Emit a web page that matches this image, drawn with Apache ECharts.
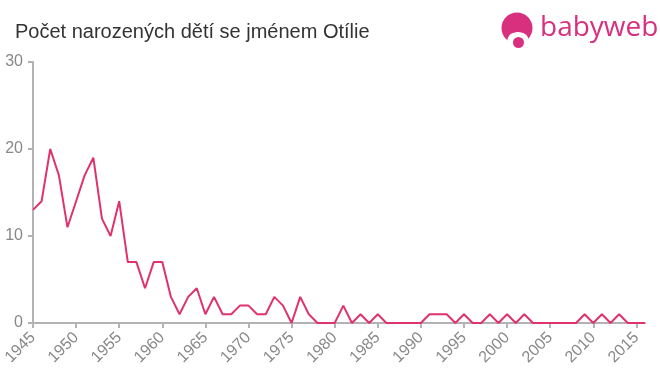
<!DOCTYPE html>
<html>
<head>
<meta charset="utf-8">
<script src="https://cdn.jsdelivr.net/npm/echarts@6/dist/echarts.min.js"></script>
<style>
html,body{margin:0;padding:0;background:#fff;}
#chart{width:660px;height:375px;}
</style>
</head>
<body>
<div id="chart"></div>
<script>
const titleText = "Počet narozených dětí se jménem Otílie";
const years = [];
for (let y = 1945; y <= 2016; y++) years.push(String(y));
const counts = [
  13, 14, 20, 17, 11, 14, 17, 19, 12, 10,   // 1945-1954
  14, 7, 7, 4, 7, 7, 3, 1, 3, 4,            // 1955-1964
  1, 3, 1, 1, 2, 2, 1, 1, 3, 2,             // 1965-1974
  0, 3, 1, 0, 0, 0, 2, 0, 1, 0,             // 1975-1984
  1, 0, 0, 0, 0, 0, 1, 1, 1, 0,             // 1985-1994
  1, 0, 0, 1, 0, 1, 0, 1, 0, 0,             // 1995-2004
  0, 0, 0, 0, 1, 0, 1, 0, 1, 0,             // 2005-2014
  0, 0                                      // 2015-2016
];
const yTicks = [0, 10, 20, 30];

const chart = echarts.init(document.getElementById('chart'), null, {renderer: 'canvas'});
const font = 'Liberation Sans, Arial, sans-serif';
chart.setOption({
  animation: false,
  backgroundColor: '#ffffff',
  title: {
    text: titleText,
    left: 15, top: 22, padding: 0,
    textStyle: {fontFamily: font, fontSize: 20, fontWeight: 'normal', color: '#333333'}
  },
  graphic: [
    {type: 'circle', shape: {cx: 517, cy: 28, r: 15.5}, style: {fill: '#d8307f'}},
    {type: 'ellipse', shape: {cx: 518, cy: 40, rx: 10.5, ry: 8}, style: {fill: '#ffffff'}},
    {type: 'circle', shape: {cx: 518.5, cy: 42.5, r: 5.5}, style: {fill: '#d8307f'}},
    {type: 'text', left: 540, top: 14,
     style: {text: 'babyweb', fill: '#d8307f', font: '28px "Open Sans", Lato, sans-serif'}}
  ],
  grid: {left: 33, right: 15, top: 62, bottom: 52, containLabel: false},
  xAxis: {
    type: 'category',
    data: years,
    boundaryGap: false,
    axisLine: {lineStyle: {color: '#b3b3b3', width: 2}},
    axisTick: {show: true, length: 5, interval: function (i) { return i % 5 === 0; }, lineStyle: {color: '#b3b3b3', width: 2}},
    axisLabel: {
      interval: function (i) { return i % 5 === 0; },
      rotate: 45, color: '#888888', fontSize: 16, fontFamily: font, margin: 12
    },
    splitLine: {show: false}
  },
  yAxis: {
    type: 'value',
    min: yTicks[0], max: yTicks[yTicks.length - 1], interval: 10,
    axisLine: {show: true, lineStyle: {color: '#b3b3b3', width: 2}},
    axisTick: {show: true, length: 5, lineStyle: {color: '#b3b3b3', width: 2}},
    axisLabel: {color: '#888888', fontSize: 16, fontFamily: font, margin: 10},
    splitLine: {show: false}
  },
  series: [{
    type: 'line',
    data: counts,
    symbol: 'none',
    lineStyle: {color: '#e0336b', width: 2},
    itemStyle: {color: '#e0336b'}
  }]
});
</script>
</body>
</html>
